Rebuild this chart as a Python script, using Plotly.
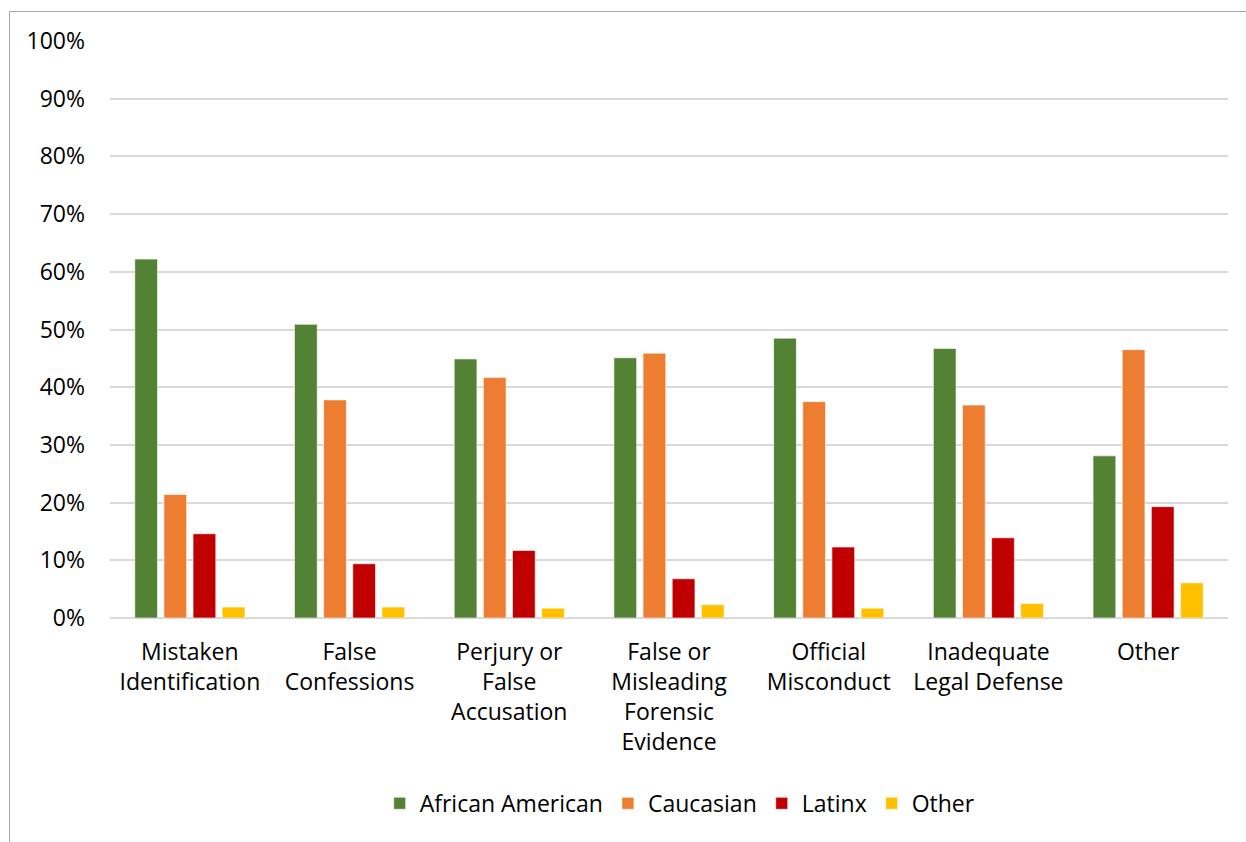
import plotly.graph_objects as go

categories = ["Mistaken<br>Identification", "False<br>Confessions", "Perjury or<br>False<br>Accusation",
              "False or<br>Misleading<br>Forensic<br>Evidence", "Official<br>Misconduct",
              "Inadequate<br>Legal Defense", "Other"]
african_american = [62.2, 50.9, 44.9, 45.1, 48.5, 46.7, 28.1]
caucasian = [21.4, 37.8, 41.7, 45.9, 37.5, 36.9, 46.5]
latinx = [14.6, 9.4, 11.7, 6.8, 12.3, 13.9, 19.3]
other = [1.9, 1.9, 1.7, 2.3, 1.7, 2.5, 6.1]
series_names = ["African American", "Caucasian", "Latinx", "Other"]
colors = ["#548235", "#ED7D31", "#C00000", "#FFC000"]
tick_vals = [0, 10, 20, 30, 40, 50, 60, 70, 80, 90, 100]
tick_text = [f"{v}%" for v in tick_vals]

FONT = "Open Sans"
FS = 23
fig = go.Figure()
for name, vals, col in zip(series_names, [african_american, caucasian, latinx, other], colors):
    fig.add_trace(go.Bar(x=categories, y=vals, name=name,
                         marker=dict(color=col, line=dict(color="rgba(255,255,255,0.6)", width=1))))

W, H = 1246, 842
l, r, t, b = 110, 18, 41, 223.5
pw, ph = W - l - r, H - t - b

def px_to_paper_x(px):
    return (px - l) / pw

def py_to_paper_y(py):
    return (H - b - py) / ph

fig.add_shape(type="rect", xref="paper", yref="paper",
              x0=px_to_paper_x(9.5), x1=px_to_paper_x(1260),
              y0=py_to_paper_y(860), y1=py_to_paper_y(11.5),
              line=dict(color="#A6A6A6", width=1), fillcolor="rgba(0,0,0,0)", layer="below")

fig.update_layout(
    width=W, height=H,
    margin=dict(l=l, r=r, t=t, b=b, pad=0),
    paper_bgcolor="white", plot_bgcolor="white",
    barmode="group", bargap=0.27, bargroupgap=0.22,
    font=dict(family=FONT, size=FS, color="#000000"),
    showlegend=True,
    legend=dict(orientation="h", x=0.51, xanchor="center", y=py_to_paper_y(804), yanchor="middle",
                font=dict(family=FONT, size=FS, color="#000000"),
                itemwidth=30, tracegroupgap=0, bgcolor="rgba(0,0,0,0)"),
    xaxis=dict(showgrid=False, showline=False, ticks="", tickfont=dict(family=FONT, size=FS),
               ticklabelstandoff=18, tickangle=0),
    yaxis=dict(range=[0, 100], tickvals=tick_vals, ticktext=tick_text,
               showgrid=True, gridcolor="#D9D9D9", gridwidth=1.5,
               zeroline=True, zerolinecolor="#D9D9D9", zerolinewidth=1.5,
               showline=False, ticks="", tickfont=dict(family=FONT, size=FS),
               ticklabelstandoff=24),
)

fig.write_html("out.html")
